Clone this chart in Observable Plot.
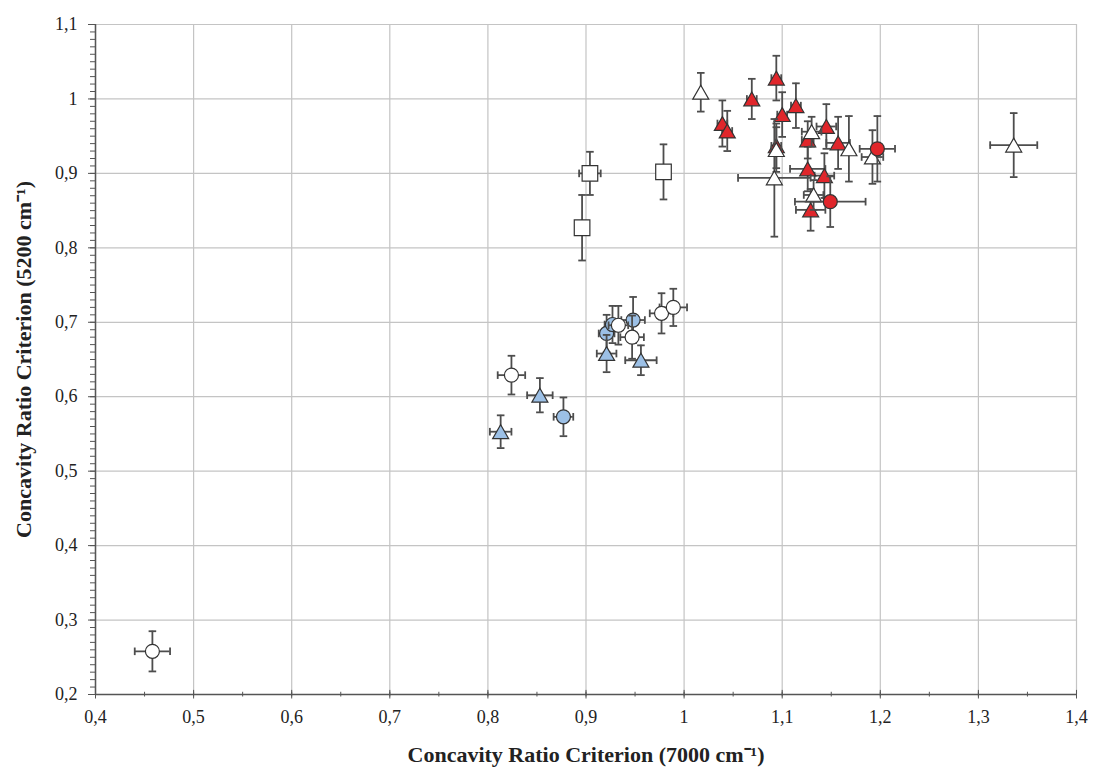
<!DOCTYPE html>
<html><head><meta charset="utf-8">
<script src="https://cdn.jsdelivr.net/npm/d3@7"></script>
<script src="https://cdn.jsdelivr.net/npm/@observablehq/plot@0.6"></script>
<style>
body{margin:0;background:#fff;}
#chart svg{font-family:"Liberation Serif","DejaVu Serif",serif;}
</style>
</head><body><div id="chart"></div>
<script>
const xTicks = [0.4,0.5,0.6,0.7,0.8,0.9,1.0,1.1,1.2,1.3,1.4];
const yTicks = [0.2,0.3,0.4,0.5,0.6,0.7,0.8,0.9,1.0,1.1];
const xMinorTicks = d3.range(0,21).map(i => 0.4 + i*0.05);
const yMinorTicks = d3.range(0,91).map(i => 0.2 + i*0.01);
const xTitle = "Concavity Ratio Criterion (7000 cm⁻¹)";
const yTitle = "Concavity Ratio Criterion (5200 cm⁻¹)";

// rows: [x, y, xError, yError]
const blueCircles = [
  [0.877, 0.573, 0.010, 0.026],
  [0.921, 0.685, 0.008, 0.025],
  [0.927, 0.697, 0.008, 0.025],
  [0.948, 0.703, 0.012, 0.031]
];
const blueTriangles = [
  [0.813, 0.553, 0.011, 0.022],
  [0.853, 0.602, 0.013, 0.023],
  [0.921, 0.658, 0.010, 0.025],
  [0.956, 0.649, 0.016, 0.020]
];
const openCircles = [
  [0.458, 0.258, 0.018, 0.027],
  [0.824, 0.629, 0.014, 0.026],
  [0.933, 0.696, 0.010, 0.026],
  [0.947, 0.680, 0.012, 0.029],
  [0.977, 0.712, 0.012, 0.027],
  [0.989, 0.720, 0.014, 0.025]
];
const openSquares = [
  [0.896, 0.827, 0.004, 0.044],
  [0.904, 0.900, 0.011, 0.029],
  [0.979, 0.902, 0.000, 0.037]
];
const redTriangles = [
  [1.039, 0.967, 0.005, 0.031],
  [1.044, 0.957, 0.005, 0.027],
  [1.069, 1.000, 0.005, 0.027],
  [1.094, 1.028, 0.005, 0.030],
  [1.094, 0.937, 0.005, 0.030],
  [1.100, 0.979, 0.005, 0.030],
  [1.114, 0.991, 0.005, 0.030],
  [1.126, 0.945, 0.006, 0.025],
  [1.126, 0.906, 0.018, 0.030],
  [1.129, 0.851, 0.015, 0.028],
  [1.143, 0.897, 0.010, 0.030],
  [1.145, 0.963, 0.010, 0.030],
  [1.157, 0.941, 0.012, 0.035]
];
const openTriangles = [
  [1.017, 1.009, 0.000, 0.026],
  [1.094, 0.932, 0.005, 0.030],
  [1.092, 0.894, 0.037, 0.079],
  [1.130, 0.956, 0.010, 0.020],
  [1.132, 0.871, 0.010, 0.020],
  [1.168, 0.933, 0.000, 0.044],
  [1.192, 0.922, 0.011, 0.036],
  [1.336, 0.938, 0.024, 0.043]
];
const redCircles = [
  [1.149, 0.862, 0.036, 0.034],
  [1.197, 0.933, 0.018, 0.044]
];

const errColor = "#4d4d4d";
const edge = "#333333";
const capH = {draw(ctx, size){ const r = Math.sqrt(size/Math.PI); ctx.moveTo(-r,0); ctx.lineTo(r,0); }};
const capV = {draw(ctx, size){ const r = Math.sqrt(size/Math.PI); ctx.moveTo(0,-r); ctx.lineTo(0,r); }};
// triangle centred on its bounding box (as in the source chart)
const tri = {draw(ctx, size){
  const r = Math.sqrt(size/Math.PI), h = r*Math.sqrt(3)/2;
  ctx.moveTo(0,-h); ctx.lineTo(r,h); ctx.lineTo(-r,h); ctx.closePath();
}};

function series(data, symbol, fill, r) {
  const rows = data.map(([x,y,ex,ey]) => ({x, y, ex, ey}));
  const hx = rows.filter(d => d.ex > 0);
  const vy = rows.filter(d => d.ey > 0);
  const eb = {stroke: errColor, strokeWidth: 1.8};
  return [
    Plot.ruleY(hx, {y: "y", x1: d => d.x - d.ex, x2: d => d.x + d.ex, ...eb}),
    Plot.ruleX(vy, {x: "x", y1: d => d.y - d.ey, y2: d => d.y + d.ey, ...eb}),
    Plot.dot(hx, {x: d => d.x - d.ex, y: "y", symbol: capV, r: 3.8, fill: "none", ...eb}),
    Plot.dot(hx, {x: d => d.x + d.ex, y: "y", symbol: capV, r: 3.8, fill: "none", ...eb}),
    Plot.dot(vy, {x: "x", y: d => d.y - d.ey, symbol: capH, r: 3.8, fill: "none", ...eb}),
    Plot.dot(vy, {x: "x", y: d => d.y + d.ey, symbol: capH, r: 3.8, fill: "none", ...eb}),
    Plot.dot(rows, {x: "x", y: "y", symbol, r, fill, stroke: edge, strokeWidth: 1.2})
  ];
}

const fmt = d => String(+d.toFixed(1)).replace(".", ",");
const blue = "#9cc0e6", red = "#e0262b", white = "#ffffff";

const chart = Plot.plot({
  width: 1093, height: 767,
  marginLeft: 95, marginRight: 17, marginTop: 24, marginBottom: 73,
  style: {fontFamily: "'Liberation Serif', serif", fontSize: "18px", color: "#222", background: "#fff"},
  x: {domain: [0.4, 1.4]},
  y: {domain: [0.2, 1.1]},
  marks: [
    Plot.gridX(xTicks, {stroke: "#c4c4c4", strokeOpacity: 1, strokeWidth: 1.2}),
    Plot.gridY(yTicks, {stroke: "#c4c4c4", strokeOpacity: 1, strokeWidth: 1.2}),
    Plot.axisY(yMinorTicks, {tickSize: 5, text: null, stroke: "#555", label: null}),
    Plot.axisY(yTicks, {tickSize: 7, tickPadding: 11, tickFormat: fmt, stroke: "#555", fill: "#222",
      label: yTitle, labelAnchor: "center", labelArrow: "none", labelOffset: 80}),
    Plot.axisX(xMinorTicks, {tickSize: 2.5, text: null, stroke: "#555", label: null}),
    Plot.axisX(xTicks, {tickSize: 4.5, tickPadding: 11, tickFormat: fmt, stroke: "#555", fill: "#222",
      label: xTitle, labelAnchor: "center", labelArrow: "none", labelOffset: 67}),
    Plot.ruleX(xTicks, {y1: 0.2, y2: 0.2055, stroke: "#555", strokeWidth: 1}),
    Plot.ruleX(xMinorTicks, {y1: 0.2, y2: 0.203, stroke: "#555", strokeWidth: 1}),
    Plot.ruleY([0.2], {stroke: "#555", strokeWidth: 1.5}),
    Plot.ruleX([0.4], {stroke: "#555", strokeWidth: 1.5}),
    ...series(blueCircles, "circle", blue, 7),
    ...series(blueTriangles, tri, blue, 8),
    ...series(openCircles, "circle", white, 7),
    ...series(openSquares, "square", white, 8.8),
    ...series(redTriangles, tri, red, 8),
    ...series(openTriangles, tri, white, 8),
    ...series(redCircles, "circle", red, 7)
  ]
});
document.getElementById("chart").append(chart);
// bold axis titles
chart.querySelectorAll("g[aria-label='x-axis label'] text, g[aria-label='y-axis label'] text").forEach(t => {
  t.setAttribute("font-weight", "bold");
  t.setAttribute("font-size", "22");
});
</script>
</body></html>
